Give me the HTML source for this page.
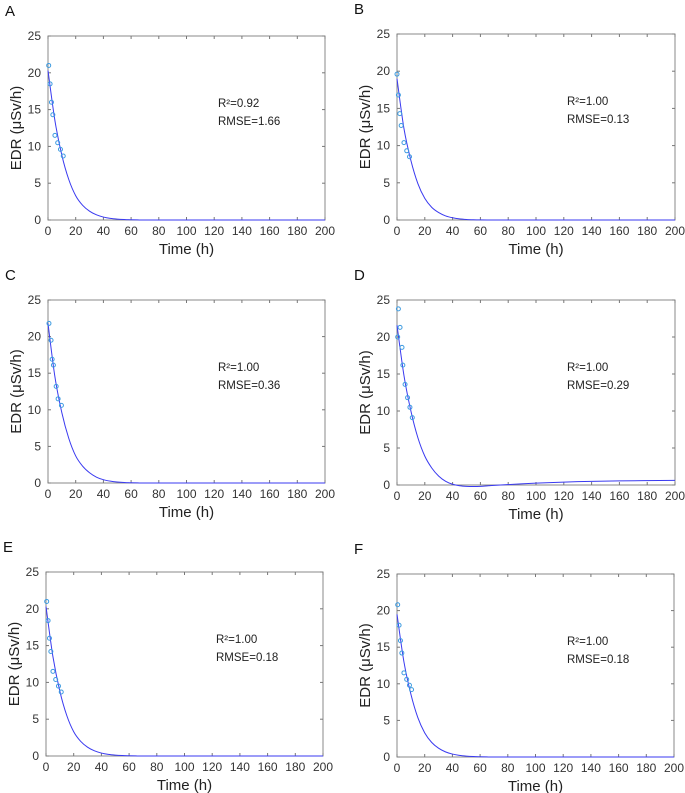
<!DOCTYPE html>
<html><head><meta charset="utf-8">
<style>
body{margin:0;background:#fff;}
svg{display:block;font-family:"Liberation Sans",Arial,sans-serif;}
</style></head>
<body>
<svg id="fig" width="685" height="793" viewBox="0 0 685 793" xmlns="http://www.w3.org/2000/svg"></svg>
<script>
const tSamples=[0,5,10,15,20,25,30,35,40,45,50,55,60,65,70,100,130,160,200];
const xTicks=[0,20,40,60,80,100,120,140,160,180,200];
const yTicks=[0,5,10,15,20,25];
const panelLabels=["A","B","C","D","E","F"];
const r2Labels=["0.92","1.00","1.00","1.00","1.00","1.00"];
const rmseLabels=["1.66","0.13","0.36","0.29","0.18","0.18"];
const fitA=[20.3,13.5,8.8,5.5,3.3,2.0,1.2,0.7,0.4,0.22,0.12,0.06,0.03,0.01,0,0,0,0,0];
const fitB=[19.0,12.3,8.0,4.9,2.9,1.7,1.0,0.55,0.3,0.15,0.07,0.03,0.01,0,0,0,0,0,0];
const fitC=[21.8,14.5,9.6,6.1,3.7,2.3,1.4,0.8,0.45,0.25,0.13,0.06,0.03,0.01,0,0,0,0,0];
const fitD=[21.6,14.8,10.0,6.4,3.9,2.3,1.2,0.5,0.1,-0.1,-0.18,-0.2,-0.18,-0.12,-0.05,0.25,0.45,0.55,0.62];
const fitE=[20.3,13.5,8.8,5.5,3.3,2.0,1.2,0.7,0.4,0.22,0.12,0.06,0.03,0.01,0,0,0,0,0];
const fitF=[19.5,13.0,8.6,5.4,3.3,2.0,1.2,0.7,0.4,0.22,0.12,0.06,0.03,0.01,0,0,0,0,0];
const ptsTA=[0.5,1.5,2.5,3.5,5,7,9,11];
const ptsVA=[21,18.5,16,14.3,11.5,10.5,9.6,8.7];
const ptsTB=[0,1,2,3,5,7,9];
const ptsVB=[19.6,16.8,14.3,12.7,10.4,9.3,8.5];
const ptsTC=[0.7,2.2,3,3.9,5.9,7.3,9.7];
const ptsVC=[21.8,19.5,16.9,16.1,13.2,11.5,10.6];
const ptsTD=[1,2.2,0.5,3.6,4.2,5.8,7.6,9.3,11];
const ptsVD=[23.8,21.3,20,18.6,16.2,13.6,11.8,10.5,9.1];
const ptsTE=[0.5,1.5,2.5,3.5,5,7,9,11];
const ptsVE=[21,18.4,16,14.2,11.5,10.4,9.5,8.7];
const ptsTF=[0.5,1.5,2.5,3.5,5,7,9,10.5];
const ptsVF=[20.8,18,15.9,14.2,11.5,10.6,9.8,9.2];

const fits=[fitA,fitB,fitC,fitD,fitE,fitF];
const ptsT=[ptsTA,ptsTB,ptsTC,ptsTD,ptsTE,ptsTF];
const ptsV=[ptsVA,ptsVB,ptsVC,ptsVD,ptsVE,ptsVF];
const boxes=[[48,325,36,220],[397,675,34,220],[48,325,300,483],[397,675,300,485],[46,323,572,756],[397,674,574,757]];

const NS="http://www.w3.org/2000/svg";
const svg=document.getElementById('fig');
function mk(tag,attrs,parent){const e=document.createElementNS(NS,tag);for(const k in attrs)e.setAttribute(k,attrs[k]);(parent||svg).appendChild(e);return e;}

boxes.forEach((b,i)=>{
  const [L,R,T,B]=b;
  const g=mk('g',{});
  
  
  const sx=v=>L+(v/200)*(R-L);
  const sy=v=>B-(v/25)*(B-T);
  const lab=mk('text',{x:L-43,y:T-20,'font-size':15,fill:'#111'},g);
  lab.textContent=panelLabels[i];
  
  
  const box=mk('rect',{x:L,y:T,width:R-L,height:B-T,fill:'none',stroke:'#8a8a8a','stroke-width':1},g);
  
  
  xTicks.forEach(v=>{
    const x=sx(v);
    mk('line',{x1:x,x2:x,y1:B,y2:B-3,stroke:'#777'},g);
    mk('line',{x1:x,x2:x,y1:T,y2:T+3,stroke:'#777'},g);
    const t=mk('text',{x:x,y:B+15,'font-size':12,fill:'#333','text-anchor':'middle'},g);
    t.textContent=v;
    
    
  });
  yTicks.forEach(v=>{
    const y=sy(v);
    mk('line',{x1:L,x2:L+3,y1:y,y2:y,stroke:'#777'},g);
    mk('line',{x1:R,x2:R-3,y1:y,y2:y,stroke:'#777'},g);
    const t=mk('text',{x:L-7,y:y+4,'font-size':12,fill:'#333','text-anchor':'end'},g);
    t.textContent=v;
    
    
  });
  const xt=mk('text',{x:(L+R)/2,y:B+34,'font-size':15,fill:'#222','text-anchor':'middle'},g);
  xt.textContent='Time (h)';
  
  
  const cy=(T+B)/2, cx=L-27;
  const yt=mk('text',{x:cx,y:cy,'font-size':15,fill:'#222','text-anchor':'middle',transform:`rotate(-90 ${cx} ${cy})`},g);
  yt.textContent='EDR (μSv/h)';
  
  
  const ax=L+170;
  const r2=mk('text',{x:ax,y:T+71,'font-size':11.5,fill:'#222'},g);
  r2.textContent='R²='+r2Labels[i];
  
  
  const rm=mk('text',{x:ax,y:T+89,'font-size':11.5,fill:'#222'},g);
  rm.textContent='RMSE='+rmseLabels[i];
  
  
  const f=fits[i];
  const P=tSamples.map((t,k)=>[sx(t),sy(f[k])]);
  let d=`M${P[0][0]},${P[0][1]}`;
  for(let k=0;k<P.length-1;k++){
    const p0=P[Math.max(k-1,0)],p1=P[k],p2=P[k+1],p3=P[Math.min(k+2,P.length-1)];
    const c1=[p1[0]+(p2[0]-p0[0])/6,p1[1]+(p2[1]-p0[1])/6];
    const c2=[p2[0]-(p3[0]-p1[0])/6,p2[1]-(p3[1]-p1[1])/6];
    d+=` C${c1[0]},${c1[1]} ${c2[0]},${c2[1]} ${p2[0]},${p2[1]}`;
  }
  const path=mk('path',{d:d,fill:'none',stroke:'#3a3af0','stroke-width':1},g);
  
  
  ptsT[i].forEach((t,k)=>{
    const c=mk('circle',{cx:sx(t),cy:sy(ptsV[i][k]),r:2,fill:'none',stroke:'#3d9be0','stroke-width':1},g);
    
    
  });
});
</script>
</body></html>
